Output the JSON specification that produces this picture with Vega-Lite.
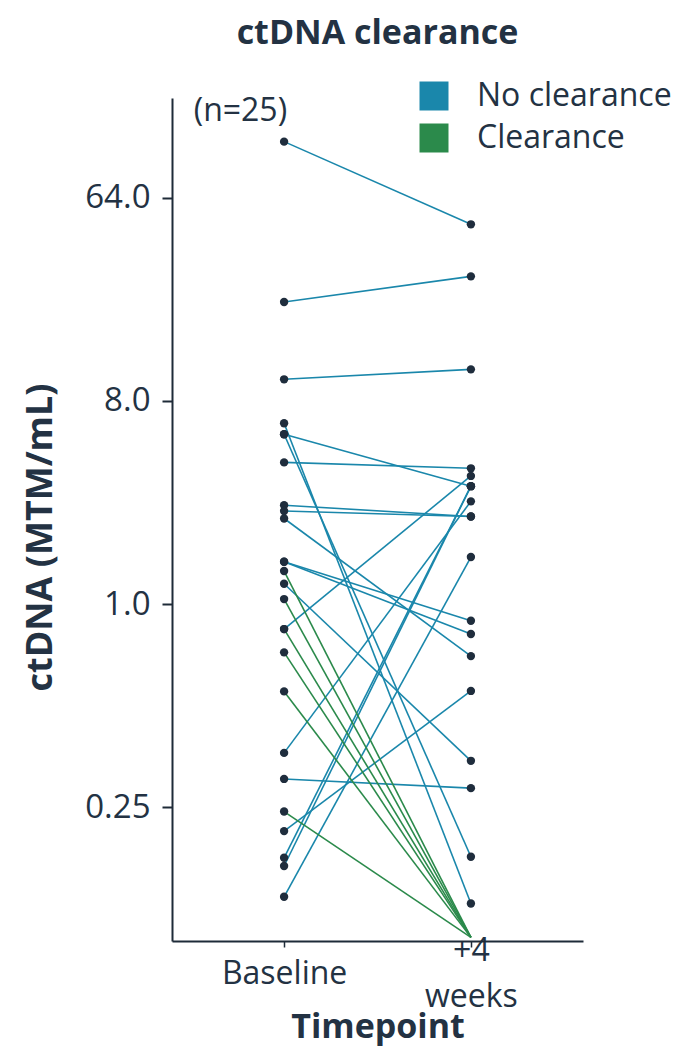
{
  "$schema": "https://vega.github.io/schema/vega-lite/v6.json",
  "width": 411,
  "height": 843,
  "autosize": {"type": "none"},
  "padding": {"left": 172, "top": 98, "right": 97, "bottom": 106},
  "background": "white",
  "title": {"text": "ctDNA clearance", "anchor": "middle", "frame": "group", "font": "Open Sans", "fontSize": 34, "fontWeight": "bold", "color": "#233243", "baseline": "alphabetic", "offset": 2},
  "config": {"view": {"stroke": null}},
  "data": {"values": [
    {"id": 1, "time": "Baseline", "ctdna": 113.5, "status": "No clearance"},
    {"id": 1, "time": "+4 weeks", "ctdna": 48.7, "status": "No clearance"},
    {"id": 2, "time": "Baseline", "ctdna": 22.0, "status": "No clearance"},
    {"id": 2, "time": "+4 weeks", "ctdna": 28.6, "status": "No clearance"},
    {"id": 3, "time": "Baseline", "ctdna": 9.97, "status": "No clearance"},
    {"id": 3, "time": "+4 weeks", "ctdna": 11.04, "status": "No clearance"},
    {"id": 4, "time": "Baseline", "ctdna": 6.36, "status": "No clearance"},
    {"id": 4, "time": "+4 weeks", "ctdna": 0.0467, "status": "No clearance"},
    {"id": 5, "time": "Baseline", "ctdna": 5.68, "status": "No clearance"},
    {"id": 5, "time": "+4 weeks", "ctdna": 0.0753, "status": "No clearance"},
    {"id": 6, "time": "Baseline", "ctdna": 5.68, "status": "No clearance"},
    {"id": 6, "time": "+4 weeks", "ctdna": 3.34, "status": "No clearance"},
    {"id": 7, "time": "Baseline", "ctdna": 4.26, "status": "No clearance"},
    {"id": 7, "time": "+4 weeks", "ctdna": 4.01, "status": "No clearance"},
    {"id": 8, "time": "Baseline", "ctdna": 2.75, "status": "No clearance"},
    {"id": 8, "time": "+4 weeks", "ctdna": 2.45, "status": "No clearance"},
    {"id": 9, "time": "Baseline", "ctdna": 2.59, "status": "No clearance"},
    {"id": 9, "time": "+4 weeks", "ctdna": 2.45, "status": "No clearance"},
    {"id": 10, "time": "Baseline", "ctdna": 2.40, "status": "No clearance"},
    {"id": 10, "time": "+4 weeks", "ctdna": 0.587, "status": "No clearance"},
    {"id": 11, "time": "Baseline", "ctdna": 1.542, "status": "No clearance"},
    {"id": 11, "time": "+4 weeks", "ctdna": 0.736, "status": "No clearance"},
    {"id": 12, "time": "Baseline", "ctdna": 1.542, "status": "No clearance"},
    {"id": 12, "time": "+4 weeks", "ctdna": 0.843, "status": "No clearance"},
    {"id": 13, "time": "Baseline", "ctdna": 1.231, "status": "No clearance"},
    {"id": 13, "time": "+4 weeks", "ctdna": 0.201, "status": "No clearance"},
    {"id": 14, "time": "Baseline", "ctdna": 0.774, "status": "No clearance"},
    {"id": 14, "time": "+4 weeks", "ctdna": 3.71, "status": "No clearance"},
    {"id": 15, "time": "Baseline", "ctdna": 0.218, "status": "No clearance"},
    {"id": 15, "time": "+4 weeks", "ctdna": 2.86, "status": "No clearance"},
    {"id": 16, "time": "Baseline", "ctdna": 0.167, "status": "No clearance"},
    {"id": 16, "time": "+4 weeks", "ctdna": 0.152, "status": "No clearance"},
    {"id": 17, "time": "Baseline", "ctdna": 0.0979, "status": "No clearance"},
    {"id": 17, "time": "+4 weeks", "ctdna": 0.411, "status": "No clearance"},
    {"id": 18, "time": "Baseline", "ctdna": 0.0745, "status": "No clearance"},
    {"id": 18, "time": "+4 weeks", "ctdna": 3.34, "status": "No clearance"},
    {"id": 19, "time": "Baseline", "ctdna": 0.0685, "status": "No clearance"},
    {"id": 19, "time": "+4 weeks", "ctdna": 3.34, "status": "No clearance"},
    {"id": 20, "time": "Baseline", "ctdna": 0.0500, "status": "No clearance"},
    {"id": 20, "time": "+4 weeks", "ctdna": 1.618, "status": "No clearance"},
    {"id": 21, "time": "Baseline", "ctdna": 1.402, "status": "Clearance"},
    {"id": 21, "time": "+4 weeks", "ctdna": 0.033, "status": "Clearance"},
    {"id": 22, "time": "Baseline", "ctdna": 1.052, "status": "Clearance"},
    {"id": 22, "time": "+4 weeks", "ctdna": 0.033, "status": "Clearance"},
    {"id": 23, "time": "Baseline", "ctdna": 0.774, "status": "Clearance"},
    {"id": 23, "time": "+4 weeks", "ctdna": 0.033, "status": "Clearance"},
    {"id": 24, "time": "Baseline", "ctdna": 0.610, "status": "Clearance"},
    {"id": 24, "time": "+4 weeks", "ctdna": 0.033, "status": "Clearance"},
    {"id": 25, "time": "Baseline", "ctdna": 0.409, "status": "Clearance"},
    {"id": 25, "time": "+4 weeks", "ctdna": 0.033, "status": "Clearance"},
    {"id": 26, "time": "Baseline", "ctdna": 0.1196, "status": "Clearance"},
    {"id": 26, "time": "+4 weeks", "ctdna": 0.033, "status": "Clearance"}
  ]},
  "encoding": {
    "x": {
      "field": "time", "type": "nominal",
      "scale": {"type": "point", "domain": ["Baseline", "+4 weeks"], "padding": 0.6},
      "axis": {
        "title": "Timepoint", "titleFont": "Open Sans", "titleFontSize": 34, "titleFontWeight": "bold", "titleColor": "#233243",
        "titleY": 96, "titleBaseline": "alphabetic",
        "labelAngle": 0, "labelBaseline": "middle", "labelFont": "Open Sans", "labelFontSize": 32, "labelColor": "#233243",
        "labelPadding": {"condition": {"test": "datum.value == 'Baseline'", "value": 26}, "value": 3},
        "labelLineHeight": 46,
        "labelExpr": "datum.value == '+4 weeks' ? ['+4', 'weeks'] : datum.value",
        "tickSize": 6, "tickWidth": 1.5, "tickColor": "#1e2b38",
        "domainColor": "#1e2b38", "domainWidth": 2, "grid": false
      }
    },
    "y": {
      "field": "ctdna", "type": "quantitative",
      "scale": {"type": "log", "base": 2, "domain": [0.0318, 177.4], "nice": false},
      "axis": {
        "title": "ctDNA (MTM/mL)", "titleFont": "Open Sans", "titleFontSize": 36, "titleFontWeight": "bold", "titleColor": "#233243",
        "titleX": -132, "titleY": 439, "titleAngle": -90, "titleAlign": "center", "titleBaseline": "middle",
        "values": [0.125, 1, 8, 64],
        "labelExpr": "datum.value < 0.2 ? '0.25' : format(datum.value, '.1f')",
        "labelFont": "Open Sans", "labelFontSize": 33, "labelColor": "#233243", "labelPadding": 12,
        "tickSize": 10, "tickWidth": 2, "tickColor": "#1e2b38",
        "domainColor": "#1e2b38", "domainWidth": 2, "grid": false
      }
    }
  },
  "layer": [
    {
      "mark": {"type": "line", "strokeWidth": 1.6},
      "encoding": {
        "detail": {"field": "id", "type": "nominal"},
        "color": {
          "field": "status", "type": "nominal",
          "scale": {"domain": ["No clearance", "Clearance"], "range": ["#1a87ab", "#2b8a4b"]},
          "legend": {
            "title": null, "orient": "none", "legendX": 246, "legendY": -18, "padding": 0,
            "symbolType": "square", "symbolSize": 841, "symbolStrokeWidth": 0,
            "labelFont": "Open Sans", "labelFontSize": 32, "labelColor": "#233243", "labelOffset": 27, "labelLimit": 0,
            "rowPadding": 10,
            "encode": {"symbols": {"update": {"fill": {"scale": "color", "field": "value"}, "fillOpacity": {"value": 1}, "strokeWidth": {"value": 0}}}}
          }
        }
      }
    },
    {
      "transform": [{"filter": "!(datum.status == 'Clearance' && datum.time == '+4 weeks')"}],
      "mark": {"type": "circle", "size": 70, "opacity": 1, "color": "#1f2d3d"}
    },
    {
      "data": {"values": [{"time": "Baseline", "ctdna": 155, "label": "(n=25)"}]},
      "mark": {"type": "text", "align": "right", "baseline": "middle", "dx": 3, "font": "Open Sans", "fontSize": 32, "color": "#233243"},
      "encoding": {
        "text": {"field": "label"}
      }
    }
  ]
}
